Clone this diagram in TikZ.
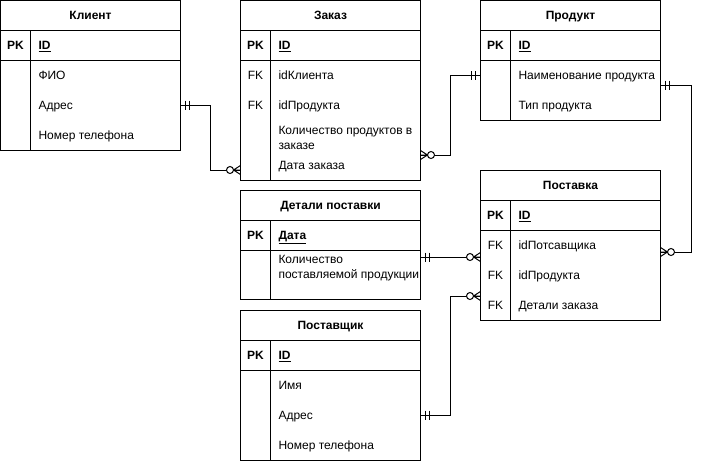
\documentclass[tikz,border=0pt]{standalone}
\usepackage{fontspec}
\setmainfont{Liberation Sans}
\begin{document}
\begin{tikzpicture}[x=1pt,y=-1pt,line width=1pt,
  every node/.style={font=\fontsize{12pt}{14.4pt}\selectfont,inner sep=0pt,outer sep=0pt},
  tbl/.style={draw,minimum width=180pt,anchor=north west},
  ttl/.style={font=\fontsize{12pt}{14.4pt}\selectfont\bfseries,text height=8.6pt,text depth=0pt},
  keycol/.style={text height=8.6pt,text depth=0pt},
  pkcol/.style={keycol,font=\fontsize{12pt}{14.4pt}\selectfont\bfseries},
  fld/.style={anchor=west,text height=8.6pt,text depth=0pt},
  pkfld/.style={fld,font=\fontsize{12pt}{14.4pt}\selectfont\bfseries},
  mfld/.style={anchor=west,align=left},
  rel/.style={line width=1pt},
  ermone/.pic={\draw (5,-4.5) -- (5,4.5) (9,-4.5) -- (9,4.5);},
  ermany/.pic={\draw (7,0) -- (0,-4.5) (7,0) -- (0,0) (7,0) -- (0,4.5);
                \draw[fill=white] (10.5,0) circle[radius=3.5pt];}]
\useasboundingbox (0,0) rectangle (701,461);

% entity boxes
\node[tbl,minimum height=150pt] (klient)     at (0.5,0.5)     {};
\node[tbl,minimum height=180pt] (zakaz)      at (240.5,0.5)   {};
\node[tbl,minimum height=120pt] (produkt)    at (480.5,0.5)   {};
\node[tbl,minimum height=150pt] (postavka)   at (480.5,170.5) {};
\node[tbl,minimum height=109pt] (detali)     at (240.5,190.5) {};
\node[tbl,minimum height=150pt] (postavshik) at (240.5,310.5) {};

% header / key separators and key column
\foreach \t in {klient,zakaz,produkt,postavka,detali,postavshik}{
  \draw ([yshift=-30pt]\t.north west) -- ([yshift=-30pt]\t.north east);
  \draw ([yshift=-60pt]\t.north west) -- ([yshift=-60pt]\t.north east);
  \draw ([shift={(30pt,-30pt)}]\t.north west) -- ([xshift=30pt]\t.south west);
}

% Клиент
\node[ttl]   (klient-t)  at (90.5,15)  {Клиент};
\node[pkcol] (klient-pk) at (15.5,45)  {PK};
\node[pkfld] (klient-id) at (38.5,45)  {\underline{ID}};
\node[fld]   (klient-f1) at (38.5,75)  {ФИО};
\node[fld]   (klient-f2) at (38.5,105) {Адрес};
\node[fld]   (klient-f3) at (38.5,135) {Номер телефона};

% Заказ
\node[ttl]    (zakaz-t)   at (330.5,15)  {Заказ};
\node[pkcol]  (zakaz-pk)  at (255.5,45)  {PK};
\node[pkfld]  (zakaz-id)  at (278.5,45)  {\underline{ID}};
\node[keycol] (zakaz-k1)  at (255.5,75)  {FK};
\node[fld]    (zakaz-f1)  at (278.5,75)  {idКлиента};
\node[keycol] (zakaz-k2)  at (255.5,105) {FK};
\node[fld]    (zakaz-f2)  at (278.5,105) {idПродукта};
\node[mfld]   (zakaz-f3)  at (278.5,138) {Количество продуктов в\\заказе};
\node[fld]    (zakaz-f4)  at (278.5,165) {Дата заказа};

% Продукт
\node[ttl]   (produkt-t)  at (570.5,15)  {Продукт};
\node[pkcol] (produkt-pk) at (495.5,45)  {PK};
\node[pkfld] (produkt-id) at (518.5,45)  {\underline{ID}};
\node[fld]   (produkt-f1) at (518.5,75)  {Наименование продукта};
\node[fld]   (produkt-f2) at (518.5,105) {Тип продукта};

% Поставка
\node[ttl]    (postavka-t)  at (570.5,185.5) {Поставка};
\node[pkcol]  (postavka-pk) at (495.5,215.5) {PK};
\node[pkfld]  (postavka-id) at (518.5,215.5) {\underline{ID}};
\node[keycol] (postavka-k1) at (495.5,245.5) {FK};
\node[fld]    (postavka-f1) at (518.5,245.5) {idПотсавщика};
\node[keycol] (postavka-k2) at (495.5,275.5) {FK};
\node[fld]    (postavka-f2) at (518.5,275.5) {idПродукта};
\node[keycol] (postavka-k3) at (495.5,305.5) {FK};
\node[fld]    (postavka-f3) at (518.5,305.5) {Детали заказа};

% Детали поставки
\node[ttl]   (detali-t)  at (330.5,205.5) {Детали поставки};
\node[pkcol] (detali-pk) at (255.5,235.5) {PK};
\node[pkfld] (detali-id) at (278.5,235.5) {\underline{Дата}};
\node[mfld]  (detali-f1) at (278.5,268)   {Количество\\поставляемой продукции};

% Поставщик
\node[ttl]   (postavshik-t)  at (330.5,325.5) {Поставщик};
\node[pkcol] (postavshik-pk) at (255.5,355.5) {PK};
\node[pkfld] (postavshik-id) at (278.5,355.5) {\underline{ID}};
\node[fld]   (postavshik-f1) at (278.5,385.5) {Имя};
\node[fld]   (postavshik-f2) at (278.5,415.5) {Адрес};
\node[fld]   (postavshik-f3) at (278.5,445.5) {Номер телефона};

% relationship end points on the entity borders
\coordinate (r1a) at (klient.east     |- 0,105);
\coordinate (r1b) at (zakaz.west      |- 0,170);
\coordinate (r2a) at (zakaz.east      |- 0,155);
\coordinate (r2b) at (produkt.west    |- 0,75);
\coordinate (r3a) at (produkt.east    |- 0,85);
\coordinate (r3b) at (postavka.east   |- 0,252);
\coordinate (r4a) at (detali.east     |- 0,257);
\coordinate (r4b) at (postavka.west   |- 0,257);
\coordinate (r5a) at (postavshik.east |- 0,415);
\coordinate (r5b) at (postavka.west   |- 0,296);

% relationship lines
\draw[rel] (r1a) -- ++(30,0) |- (r1b);
\draw[rel] (r2a) -- ++(30,0) |- (r2b);
\draw[rel] (r3a) -- ++(30.5,0) |- (r3b);
\draw[rel] (r4a) -- (r4b);
\draw[rel] (r5a) -- ++(30,0) |- (r5b);

% cardinality marks
\pic at (r1a) {ermone};
\pic[rotate=180] at (r1b) {ermany};
\pic at (r2a) {ermany};
\pic[rotate=180] at (r2b) {ermone};
\pic at (r3a) {ermone};
\pic at (r3b) {ermany};
\pic at (r4a) {ermone};
\pic[rotate=180] at (r4b) {ermany};
\pic at (r5a) {ermone};
\pic[rotate=180] at (r5b) {ermany};
\end{tikzpicture}
\end{document}
